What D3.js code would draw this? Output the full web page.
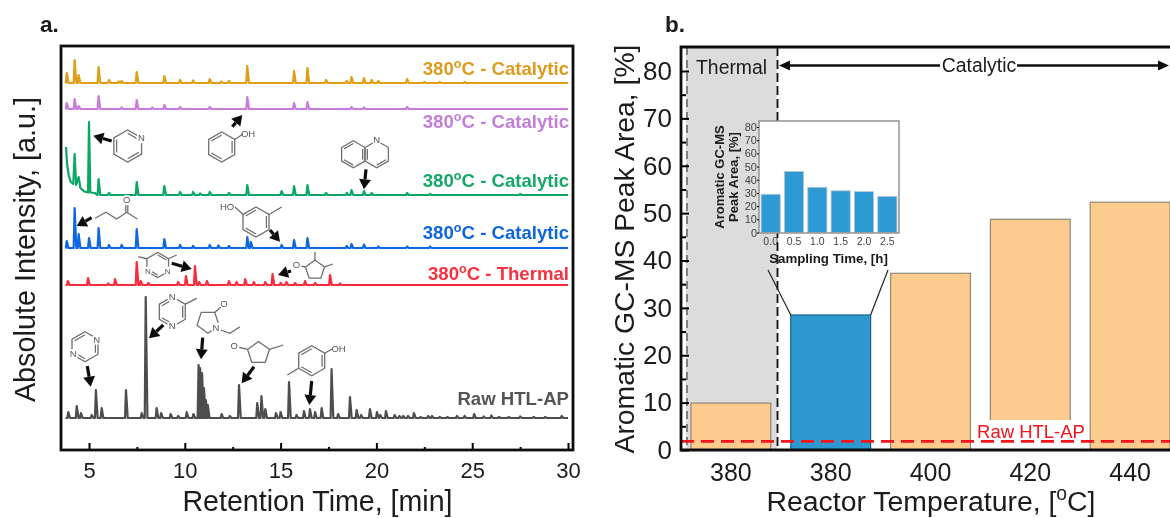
<!DOCTYPE html>
<html lang="en">
<head>
    <meta charset="UTF-8">
    <title>GC-MS chromatograms and aromatic peak area</title>
    <style>
        html, body { margin: 0; padding: 0; background: #fff; }
        svg { display: block; }
        text { font-family: "Liberation Sans", Arial, sans-serif; }
        .tick line { stroke: #000; }
        .domain { display: none; }
    </style>
    <script src="https://d3js.org/d3.v7.min.js"></script>
</head>
<body>
    <svg width="1170" height="518"></svg>
    <script>
        // panel a, retention time [min] and peak height [a.u.] per trace
        const orangeTimes = [3.84, 4.25, 4.46, 5.5, 6.04, 6.55, 6.7, 7.49, 8.93, 9.75, 10.43, 11.3, 11.9, 12.3, 13.26, 15.7, 16.4, 17.37, 18.45, 18.7, 19.35, 19.75, 20.1, 21.6, 22.5, 23.3, 24.6];
        const orangeHeights = [10, 23, 8, 16, 3, 1.5, 2, 11, 7, 3, 2.5, 4, 1.5, 2, 17, 12, 15, 3, 2, 6, 5, 3, 2, 4, 1, 1, 1];
        const purpleTimes = [3.84, 4.25, 4.46, 5.5, 6.7, 7.49, 8.3, 8.93, 9.75, 11.3, 13.26, 15.7, 16.4, 18.7, 19.35, 21.6];
        const purpleHeights = [6, 10, 3, 13, 1.5, 9, 1.5, 4, 2, 2, 12, 6, 7, 2, 1.5, 2];
        const greenOnsetTimes = [3.8, 3.86, 3.95, 4.05, 4.18, 4.25, 4.33, 4.46, 4.55, 4.75, 4.95, 5.0, 5.07, 5.3];
        const greenOnsetHeights = [48, 30, 19, 13, 11, 41, 10, 18, 7, 3.5, 2.5, 73, 2.5, 2];
        const greenTimes = [5.5, 6.04, 7.49, 8.93, 9.75, 10.43, 10.8, 11.3, 12.3, 13.26, 15.05, 15.7, 16.4, 17.37, 18.45, 18.7, 19.35, 19.75, 21.6, 22.8, 27.5];
        const greenHeights = [16, 2, 13, 9, 3, 3, 1.5, 3, 2, 10, 4, 9, 10, 2, 2, 5, 4, 2, 2, 1, 1];
        const blueTimes = [3.84, 4.25, 4.46, 5.0, 5.5, 6.04, 6.7, 7.49, 8.93, 9.75, 10.43, 11.3, 11.75, 12.3, 13.26, 13.45, 15.05, 15.7, 16.4, 18.45, 18.7, 19.35, 20.1, 21.6, 22.8];
        const blueHeights = [7, 40, 14, 10, 20, 3, 3, 19, 9, 3, 2, 3, 2.5, 2, 11, 6, 3, 8, 10, 2, 4, 3.5, 1.5, 1.5, 1.5];
        const redTimes = [3.9, 4.95, 6.0, 6.36, 7.49, 7.7, 8.1, 9.65, 10.06, 10.53, 10.75, 11.15, 12.3, 12.7, 13.15, 13.6, 14.2, 14.58, 15.0, 15.3, 15.75, 16.27, 16.8, 17.58, 18.1];
        const redHeights = [4, 7, 1.5, 6, 23, 4, 2, 3, 9, 19, 3, 4, 4, 3, 6, 3, 3, 11, 2, 3, 2, 4, 2, 10, 1.5];
        const rawTimes = [3.92, 4.36, 4.58, 5.14, 5.36, 5.66, 6.93, 7.75, 7.96, 8.53, 8.77, 9.26, 9.65, 10.1, 10.45, 10.72, 10.8, 10.9, 11.0, 11.1, 11.2, 11.92, 12.35, 12.83, 13.78, 14.0, 14.2, 14.76, 15.0, 15.44, 15.83, 16.22, 16.53, 16.8, 17.14, 17.66, 18.0, 18.62, 18.97, 19.2, 19.66, 20.03, 20.2, 20.5, 20.95, 21.2, 21.4, 21.65, 21.96, 22.3, 22.7, 22.9, 23.3, 23.7, 24.2, 24.6, 25.1, 25.6, 26.0, 26.4, 26.9, 27.5, 28.2, 28.8, 29.67];
        const rawHeights = [6, 12, 5, 3, 28, 10, 28, 5, 121, 10, 5, 4, 2, 6, 4, 53, 50, 45, 30, 18, 13, 4, 2, 33, 15, 22, 9, 5, 6, 36, 3, 7, 9, 6, 10, 49, 4, 21, 8, 3, 9, 6, 3, 7, 3, 2, 2, 2, 5, 1, 2, 2, 1, 1, 2, 2, 4, 1.5, 2.5, 1, 1, 1.5, 1, 1, 2];

        // panel b, bars and inset
        const temperatures = ["380", "380", "400", "420", "440"];
        const peakAreas = [9.9, 28.5, 37.3, 48.7, 52.3];
        const rawPeakArea = 1.8;
        const samplingTimes = ["0.0", "0.5", "1.0", "1.5", "2.0", "2.5"];
        const insetAreas = [29, 46.2, 34.3, 31.6, 31, 27.3];

        const svg = d3.select("svg");

        const defs = svg.append("defs");
        defs.append("filter").attr("id", "soft")
            .attr("filterUnits", "userSpaceOnUse")
            .attr("x", 0).attr("y", 0).attr("width", 1170).attr("height", 518)
            .append("feGaussianBlur").attr("stdDeviation", 0.55);

        const root = svg.append("g").attr("filter", "url(#soft)");
        root.append("rect").attr("width", 1170).attr("height", 518).attr("fill", "#fff");

        function label(parent, x, y, str, size, opts = {}) {
            return parent.append("text")
                .attr("x", x).attr("y", y)
                .attr("font-size", size)
                .attr("font-weight", opts.weight || "normal")
                .attr("fill", opts.fill || "#1a1a1a")
                .attr("text-anchor", opts.anchor || "start")
                .attr("transform", opts.rotate ? `rotate(${opts.rotate} ${x} ${y})` : null)
                .text(str);
        }

        // text with a raised small "o" for the degree sign
        function degreeLabel(parent, x, y, before, after, size, opts = {}) {
            const t = label(parent, x, y, before, size, opts);
            t.append("tspan").attr("dy", -size * 0.38).attr("font-size", size * 0.68).text("o");
            t.append("tspan").attr("dy", size * 0.38).text(after);
            return t;
        }

        // ---------- panel a ----------
        const xA = d3.scaleLinear().domain([5, 30]).range([89, 568]);
        const yA = d3.scaleLinear().domain([0, 404]).range([450, 46]);

        const traceLine = d3.line().x(d => xA(d[0])).y(d => yA(d[1]));

        function peaksToPoints(times, heights, base) {
            const pts = [];
            times.forEach((t, i) => {
                pts.push([t - 0.05, base], [t, base + heights[i]], [t + 0.09, base]);
            });
            return pts;
        }

        const traces = [
            {times: orangeTimes, heights: orangeHeights, base: 367, color: "#e09d12"},
            {times: purpleTimes, heights: purpleHeights, base: 341, color: "#c97bdc"},
            {times: greenTimes, heights: greenHeights, base: 255, color: "#0aa765", onsetT: greenOnsetTimes, onsetH: greenOnsetHeights},
            {times: blueTimes, heights: blueHeights, base: 202, color: "#0a66e4"},
            {times: redTimes, heights: redHeights, base: 165, color: "#fb2a3c"},
            {times: rawTimes, heights: rawHeights, base: 32, color: "#4d4d4d"}
        ];

        traces.forEach(tr => {
            let pts;
            if (tr.onsetT) {
                pts = tr.onsetT.map((t, i) => [t, tr.base + tr.onsetH[i]]);
            } else {
                pts = [[3.78, tr.base]];
            }
            pts = pts.concat(peaksToPoints(tr.times, tr.heights, tr.base));
            pts.push([30, tr.base]);
            root.append("path")
                .attr("d", traceLine(pts))
                .attr("fill", "none")
                .attr("stroke", tr.color)
                .attr("stroke-width", 2.2)
                .attr("stroke-linejoin", "round");
        });

        const traceLabels = [
            {y: 75, text: " - Catalytic", color: "#db9c1f"},
            {y: 128, text: " - Catalytic", color: "#c27ed9"},
            {y: 187, text: " - Catalytic", color: "#12a866"},
            {y: 239, text: " - Catalytic", color: "#0f66dc"},
            {y: 280, text: " - Thermal", color: "#f8323f"}
        ];
        traceLabels.forEach(d => {
            degreeLabel(root, 569, d.y, "380", "C" + d.text, 18.6, {weight: "bold", fill: d.color, anchor: "end"});
        });
        label(root, 569, 405, "Raw HTL-AP", 18.6, {weight: "bold", fill: "#555", anchor: "end"});

        // axis a
        root.append("g").attr("transform", "translate(0,450)")
            .call(d3.axisBottom(xA).tickValues(d3.range(7.5, 30, 5)).tickSize(-3).tickFormat(""))
            .selectAll("line").attr("stroke-width", 2);
        const axisA = root.append("g").attr("transform", "translate(0,450)")
            .call(d3.axisBottom(xA).tickValues(d3.range(5, 31, 5)).tickSize(-7).tickPadding(12));
        axisA.selectAll("line").attr("stroke-width", 2);
        axisA.selectAll("text").attr("font-size", 22).attr("fill", "#1a1a1a");

        root.append("rect").attr("x", 61).attr("y", 46).attr("width", 512).attr("height", 404)
            .attr("fill", "none").attr("stroke", "#111").attr("stroke-width", 2.8);

        label(root, 317.5, 511, "Retention Time, [min]", 28.6, {anchor: "middle"});
        label(root, 35, 249.5, "Absolute Intensity, [a.u.]", 28.8, {anchor: "middle", rotate: -90});
        label(root, 40, 32, "a.", 22.5, {weight: "bold"});

        // ---------- chemical structures, panel a ----------
        const mol = root.append("g").attr("fill", "none").attr("stroke", "#6e6e6e").attr("stroke-width", 1.3);

        function ringPoints(cx, cy, r, n, startDeg) {
            return d3.range(n).map(i => {
                const a = (startDeg + i * 360 / n) * Math.PI / 180;
                return [cx + r * Math.cos(a), cy + r * Math.sin(a)];
            });
        }
        // hexagon vertices from top going clockwise: 0 top, 1 upper right, 2 lower right, 3 bottom, 4 lower left, 5 upper left
        function hexagon(cx, cy, r, doubles) {
            const pts = ringPoints(cx, cy, r, 6, -90);
            mol.append("path").attr("d", d3.line()(pts) + "Z");
            doubles.forEach(i => {
                const a = pts[i], b = pts[(i + 1) % 6];
                const inner = p => [p[0] + (cx - p[0]) * 0.2, p[1] + (cy - p[1]) * 0.2];
                const p = inner(a), q = inner(b);
                mol.append("path").attr("d", d3.line()([p, q]));
            });
            return pts;
        }
        function bond(points) {
            mol.append("path").attr("d", d3.line()(points));
        }
        function atom(x, y, str, size = 9.5) {
            root.append("circle").attr("cx", x).attr("cy", y).attr("r", size * 0.55).attr("fill", "#fff");
            label(root, x, y + size * 0.36, str, size, {fill: "#555", anchor: "middle"});
        }

        let r;
        // pyridine
        hexagon(127.7, 146, 16, [0, 2, 4]);
        atom(141.5, 138, "N");
        // phenol
        r = hexagon(221.7, 147, 15, [1, 3, 5]);
        bond([r[1], [243, 134]]);
        atom(248, 134, "OH");
        // quinoline
        hexagon(353.3, 154.3, 13.5, [1, 3, 5]);
        hexagon(376.7, 154.3, 13.5, [2, 4]);
        atom(376.7, 139.5, "N");
        // 2-pentanone chain
        bond([[95, 218.3], [106, 212.3], [116.7, 219], [126.7, 212.3], [137.3, 219]]);
        bond([[125.8, 212.3], [125.8, 204]]);
        bond([[127.8, 212.3], [127.8, 204]]);
        atom(126.7, 200, "O");
        // methylphenol
        r = hexagon(256, 222, 15, [1, 3, 5]);
        bond([r[1], [281.7, 207]]);
        bond([r[5], [235, 207]]);
        atom(227, 206.5, "HO");
        // dimethylpyrimidine
        r = hexagon(157.7, 265, 12.5, [0, 3]);
        bond([r[5], [138.3, 256.7]]);
        bond([r[1], [176.7, 255]]);
        atom(148, 271, "N", 8);
        atom(167.7, 271, "N", 8);
        // dimethylcyclopentenone
        r = ringPoints(315, 270, 10, 5, 198);
        mol.append("path").attr("d", d3.line()(r) + "Z");
        bond([r[1], [315, 252]]);
        bond([r[2], [333, 264]]);
        bond([r[0], [300, 266]]);
        atom(296.5, 265, "O");
        // pyrazine
        hexagon(85, 346.7, 15, [1, 3, 5]);
        atom(96.7, 339.5, "N");
        atom(73.3, 354, "N");
        // methylpyrazine
        r = hexagon(172.3, 311.7, 15, [1, 3, 5]);
        bond([r[1], [196.7, 298.3]]);
        atom(172.3, 297, "N");
        atom(172.3, 326, "N");
        // ethylpyrrolidone
        r = ringPoints(208, 321.7, 11.5, 5, 18);
        mol.append("path").attr("d", d3.line()(r) + "Z");
        bond([r[4], [222, 306]]);
        bond([[215, 328], [230, 333.3], [240, 326.7]]);
        atom(216, 327.5, "N");
        atom(224, 303.3, "O");
        // methylcyclopentenone
        r = ringPoints(258.5, 353, 11.5, 5, 198);
        mol.append("path").attr("d", d3.line()(r) + "Z");
        bond([r[2], [283.3, 345]]);
        bond([r[0], [238, 347]]);
        atom(234.3, 346, "O");
        // p-cresol
        r = hexagon(311.7, 360.7, 15, [1, 3, 5]);
        bond([r[1], [332, 349]]);
        bond([r[4], [287.3, 375]]);
        atom(338.5, 348.5, "OH");

        // ---------- arrows ----------
        function arrow(x1, y1, x2, y2, w = 3.2, head = 10, spread = 6) {
            const a = Math.atan2(y2 - y1, x2 - x1);
            const bx = x2 - head * Math.cos(a), by = y2 - head * Math.sin(a);
            root.append("line").attr("x1", x1).attr("y1", y1).attr("x2", bx).attr("y2", by)
                .attr("stroke", "#111").attr("stroke-width", w);
            root.append("path")
                .attr("d", d3.line()([[x2, y2],
                    [bx + spread * Math.sin(a), by - spread * Math.cos(a)],
                    [bx - spread * Math.sin(a), by + spread * Math.cos(a)]]) + "Z")
                .attr("fill", "#111");
        }
        [
            [111.7, 141, 93.3, 135.7], [232.3, 126.7, 242.3, 115], [366, 169.3, 364, 189.3],
            [91.7, 217.7, 76.7, 226], [270, 230, 280, 241.7], [171.7, 263.3, 191.7, 269],
            [291, 271, 278, 275], [87.3, 366, 90.7, 386.7], [163.3, 325, 149, 338.3],
            [202.7, 337.7, 201, 359.3], [254, 366.7, 241.7, 383.3], [311.7, 381, 309.3, 405]
        ].forEach(a => arrow(...a));

        // ---------- panel b ----------
        const yB = d3.scaleLinear().domain([0, 80]).range([450, 71]);
        const xB = d3.scaleBand().domain(d3.range(temperatures.length))
            .range([681, 1180]).paddingInner(0.2).paddingOuter(0.1);

        root.append("rect").attr("x", 686).attr("y", 47).attr("width", 91).attr("height", 403).attr("fill", "#dcdcdc");

        root.append("line").attr("x1", 687).attr("x2", 687).attr("y1", 47).attr("y2", 450)
            .attr("stroke", "#222").attr("stroke-width", 1).attr("stroke-dasharray", "8 5");
        root.append("line").attr("x1", 777.5).attr("x2", 777.5).attr("y1", 47).attr("y2", 450)
            .attr("stroke", "#111").attr("stroke-width", 1.8).attr("stroke-dasharray", "9 4");

        root.selectAll(".bar").data(peakAreas).enter().append("rect")
            .attr("class", "bar")
            .attr("x", (d, i) => xB(i))
            .attr("y", d => yB(d))
            .attr("width", xB.bandwidth())
            .attr("height", d => yB(0) - yB(d))
            .attr("fill", (d, i) => i === 1 ? "#2e98d0" : "#fdcb8d")
            .attr("stroke", (d, i) => i === 1 ? "#1d5f86" : "#8d8878")
            .attr("stroke-width", 1.2);

        // white patch behind the reference line label
        root.append("rect").attr("x", 973).attr("y", 420).attr("width", 113).attr("height", 29).attr("fill", "#fff");
        root.append("line")
            .attr("x1", 681).attr("x2", 1170)
            .attr("y1", yB(rawPeakArea)).attr("y2", yB(rawPeakArea))
            .attr("stroke", "#f0141e").attr("stroke-width", 2.8).attr("stroke-dasharray", "13 7");
        label(root, 1031, 438, "Raw HTL-AP", 18.5, {fill: "#f0141e", anchor: "middle"});

        // y axis b
        root.append("g").attr("transform", "translate(681,0)")
            .call(d3.axisLeft(yB).tickValues(d3.range(5, 85, 10)).tickSize(-5).tickFormat(""))
            .selectAll("line").attr("stroke-width", 2);
        const axisBY = root.append("g").attr("transform", "translate(681,0)")
            .call(d3.axisLeft(yB).tickValues(d3.range(0, 81, 10)).tickSize(-8).tickPadding(9));
        axisBY.selectAll("line").attr("stroke-width", 2);
        axisBY.selectAll("text").attr("font-size", 26).attr("fill", "#1a1a1a");

        const axisBX = root.append("g").attr("transform", "translate(0,450)")
            .call(d3.axisBottom(xB).tickSize(0).tickPadding(13).tickFormat(i => temperatures[i]));
        axisBX.selectAll("text").attr("font-size", 25).attr("fill", "#1a1a1a");

        root.append("path").attr("d", d3.line()([[1171, 47], [681, 47], [681, 450], [1171, 450]]))
            .attr("fill", "none").attr("stroke", "#111").attr("stroke-width", 2.8);

        degreeLabel(root, 931, 511, "Reactor Temperature, [", "C]", 28.4, {anchor: "middle"});
        label(root, 634, 249, "Aromatic GC-MS Peak Area, [%]", 28.3, {anchor: "middle", rotate: -90});
        label(root, 665, 32, "b.", 22.5, {weight: "bold"});

        label(root, 696, 74, "Thermal", 19.4);
        label(root, 979, 72, "Catalytic", 19.4, {anchor: "middle"});
        arrow(940, 65.5, 779, 65.5, 2.4, 11, 5);
        arrow(1017, 65.5, 1169, 65.5, 2.4, 11, 5);

        // funnel from the blue bar up to the inset
        root.append("path")
            .attr("d", d3.line()([[768, 270], [xB(1), yB(peakAreas[1])]]) + d3.line()([[888, 270], [xB(1) + xB.bandwidth(), yB(peakAreas[1])]]))
            .attr("fill", "none").attr("stroke", "#222").attr("stroke-width", 1.2);

        // ---------- inset ----------
        const inset = root.append("g");
        const yI = d3.scaleLinear().domain([0, 80]).range([232.5, 127]);
        const xI = d3.scaleBand().domain(samplingTimes).range([759, 899]).paddingInner(0.18).paddingOuter(0.09);

        inset.append("rect").attr("x", 759).attr("y", 121).attr("width", 140).attr("height", 112)
            .attr("fill", "#fff");
        inset.selectAll(".ibar").data(insetAreas).enter().append("rect")
            .attr("class", "ibar")
            .attr("x", (d, i) => xI(samplingTimes[i]))
            .attr("y", d => yI(d))
            .attr("width", xI.bandwidth())
            .attr("height", d => yI(0) - yI(d))
            .attr("fill", "#2e9ad3")
            .attr("stroke", "#b8c4cc")
            .attr("stroke-width", 0.8);
        inset.append("rect").attr("x", 759).attr("y", 121).attr("width", 140).attr("height", 112)
            .attr("fill", "none").attr("stroke", "#8c8c8c").attr("stroke-width", 1.4);

        const axisIY = inset.append("g").attr("transform", "translate(759,0)")
            .call(d3.axisLeft(yI).tickValues(d3.range(0, 81, 10)).tickSize(2).tickPadding(0));
        axisIY.selectAll("line").attr("stroke", "#777");
        axisIY.selectAll("text").attr("font-size", 11).attr("fill", "#444");

        const axisIX = inset.append("g").attr("transform", "translate(0,233)")
            .call(d3.axisBottom(xI).tickSize(0).tickPadding(5));
        axisIX.selectAll("text").attr("font-size", 10.5).attr("fill", "#444");

        label(inset, 828.5, 263, "Sampling Time, [h]", 13.3, {weight: "bold", anchor: "middle"});
        label(inset, 724, 177, "Aromatic GC-MS", 13, {weight: "bold", anchor: "middle", rotate: -90});
        label(inset, 738, 177, "Peak Area, [%]", 13, {weight: "bold", anchor: "middle", rotate: -90});
    </script>
</body>
</html>
